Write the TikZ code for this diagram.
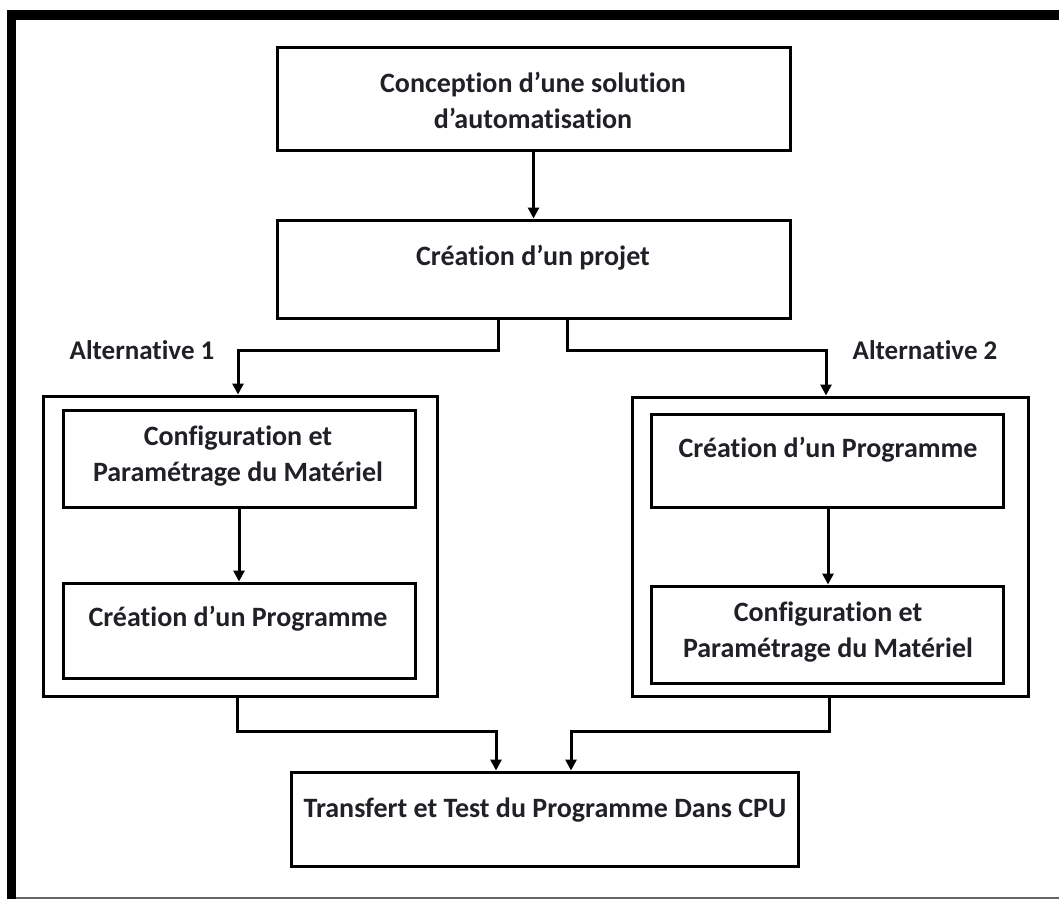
\documentclass[tikz,border=0pt]{standalone}
\usepackage{fontspec}
\setmainfont{Carlito}[Ligatures=NoCommon]
\usetikzlibrary{arrows.meta}
\definecolor{ink}{RGB}{32,32,38}
\tikzset{
  box/.style={draw=black, line width=3pt, inner sep=0pt},
  lbl/.style={font=\bfseries\fontsize{28}{36}\selectfont, text=ink, align=center, inner sep=0pt},
  alt/.style={font=\bfseries\fontsize{27}{32}\selectfont, text=ink, inner sep=0pt},
  flow/.style={line width=3pt, -{Triangle[length=11pt,width=11pt]}},
  wire/.style={line width=3pt}
}
\begin{document}
\begin{tikzpicture}[x=1pt, y=-1pt]
  % page and frame
  \useasboundingbox (0,0) rectangle (1059,899);
  \fill[white] (0,0) rectangle (1059,899);
  \fill[black] (7,10) rectangle (1059,20);
  \fill[black] (7,10) rectangle (16,899);
  \draw[black!60, line width=2pt] (16,897.5) -- (1059,897.5);

  % main boxes
  \node[box, minimum width=513pt, minimum height=102pt] (top) at (533.5,99) {};
  \node[box, minimum width=513pt, minimum height=98pt] (b2) at (533.5,269) {};
  \node[box, minimum width=507pt, minimum height=94pt] (bot) at (544.5,819) {};

  % alternative 1
  \node[box, minimum width=394pt, minimum height=300pt] (Lout) at (240,546) {};
  \node[box, minimum width=352pt, minimum height=97pt] (Lin1) at (239,458.5) {};
  \node[box, minimum width=352pt, minimum height=95pt] (Lin2) at (239,630.5) {};

  % alternative 2
  \node[box, minimum width=396pt, minimum height=299pt] (Rout) at (830,546.5) {};
  \node[box, minimum width=352pt, minimum height=93pt] (Rin1) at (827,460.5) {};
  \node[box, minimum width=352pt, minimum height=97pt] (Rin2) at (827,634.5) {};

  % texts
  \node[lbl] (ttop) at (533,100) {Conception d’une solution\\d’automatisation};
  \node[lbl] (tb2) at (533,258) {Création d’un projet};
  \node[lbl] (tL1) at (238,456) {Configuration et\\Paramétrage du Matériel};
  \node[lbl] (tL2) at (238,619) {Création d’un Programme};
  \node[lbl] (tR1) at (828,450) {Création d’un Programme};
  \node[lbl] (tR2) at (828,632) {Configuration et\\Paramétrage du Matériel};
  \node[lbl] (tbot) at (545,810) {Transfert et Test du Programme Dans CPU};
  \node[alt] (a1) at (142,350) {Alternative 1};
  \node[alt] (a2) at (925,350) {Alternative 2};

  % junction points
  \coordinate (jl) at (238,350);
  \coordinate (jr) at (826,350);
  \coordinate (kl) at (237,731);
  \coordinate (kr) at (829,731);

  % connectors
  \draw[flow] (top) -- (b2);
  \draw[flow] ([xshift=-35.5pt]b2.south) |- (jl) -- (jl |- Lout.north);
  \draw[flow] ([xshift=33.5pt]b2.south) |- (jr) -- (jr |- Rout.north);
  \draw[flow] (Lin1.south -| 239,0) -- (Lin2.north -| 239,0);
  \draw[flow] (Rin1.south -| 828,0) -- (Rin2.north -| 828,0);
  \draw[flow] (kl |- Lout.south) -- (kl) -| ([xshift=-48.5pt]bot.north);
  \draw[flow] (kr |- Rout.south) -- (kr) -| ([xshift=26.5pt]bot.north);
\end{tikzpicture}
\end{document}
